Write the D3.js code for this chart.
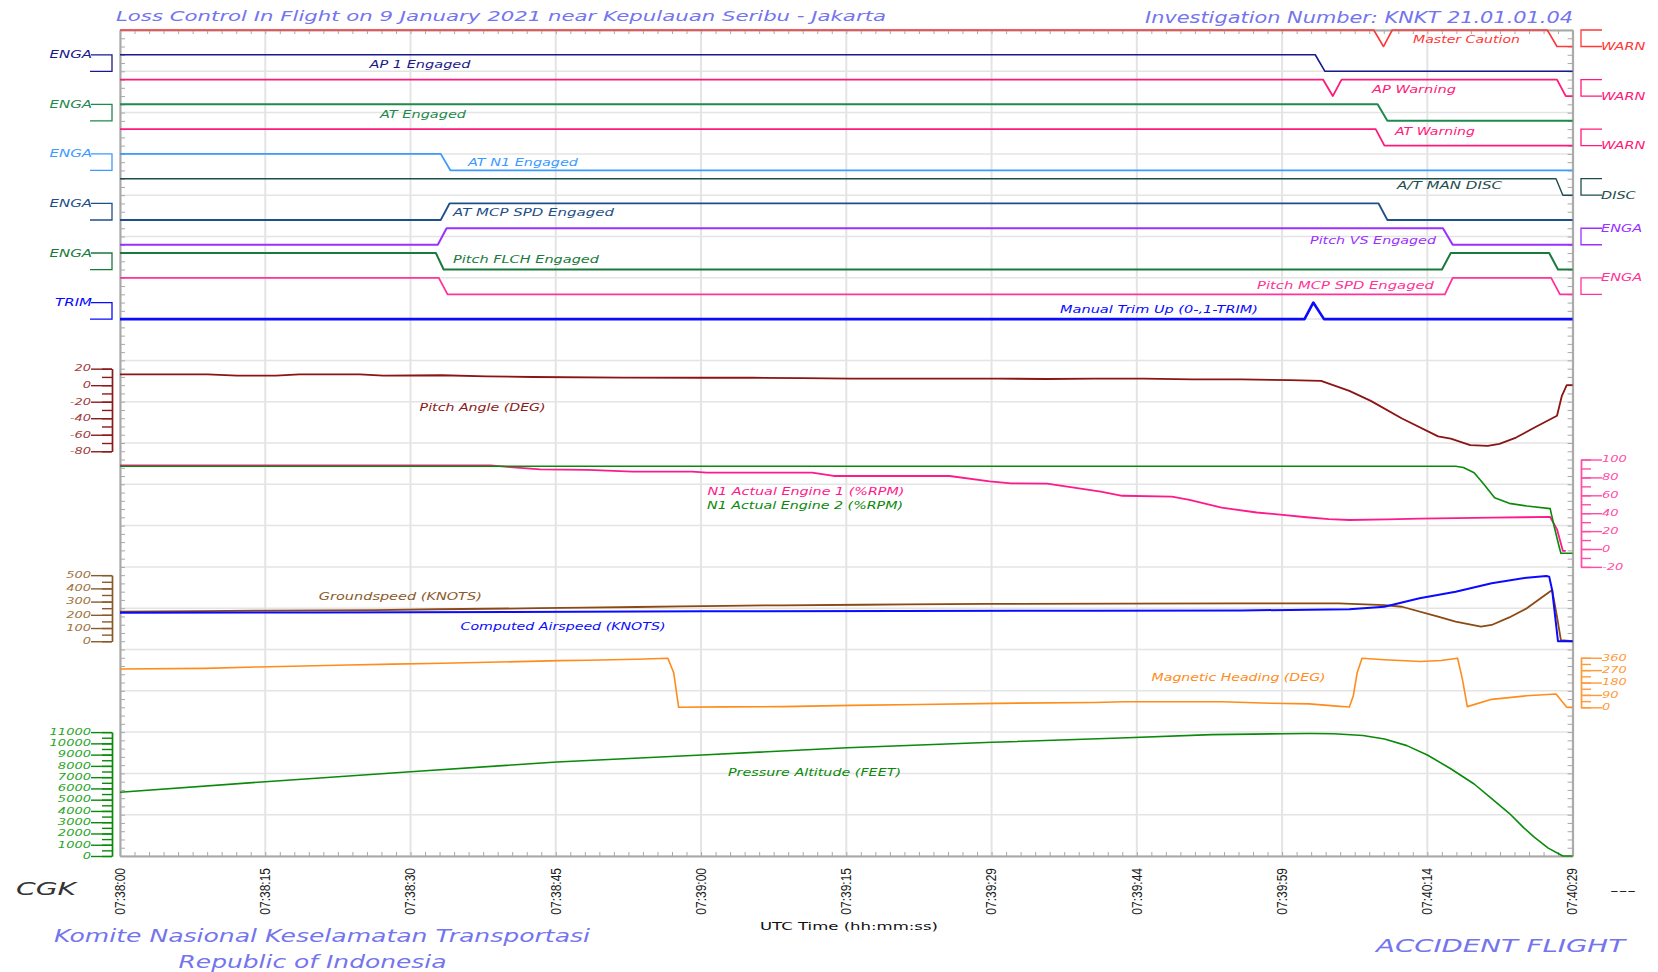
<!DOCTYPE html>
<html><head><meta charset="utf-8">
<script src="https://cdn.jsdelivr.net/npm/d3@7"></script>
<style>body{margin:0;background:#fff}svg{display:block}</style>
</head><body>
<svg id="c" width="1658" height="972"></svg>
<script>
// ---------------- DATA ----------------
const timeTickLabels = ["07:38:00","07:38:15","07:38:30","07:38:45","07:39:00","07:39:15","07:39:29","07:39:44","07:39:59","07:40:14","07:40:29"];
const timeTickSeconds = [0,14.9,29.8,44.7,59.6,74.5,89.4,104.3,119.2,134.1,149];

// discrete parameters: [seconds from 07:38:00, state 1=high 0=low]
const masterCaution = [[0,1],[128.6,1],[129.6,0],[130.5,1],[146.4,1],[147.4,0],[149,0]];
const ap1Engaged    = [[0,1],[122.6,1],[123.6,0],[149,0]];
const apWarning     = [[0,1],[123.4,1],[124.4,0],[125.3,1],[147.4,1],[148.3,0],[149,0]];
const atEngaged     = [[0,1],[129,1],[130,0],[149,0]];
const atWarning     = [[0,1],[128.8,1],[129.7,0],[149,0]];
const atN1Engaged   = [[0,1],[32.9,1],[33.9,0],[149,0]];
const atManDisc     = [[0,1],[147.3,1],[148,0],[149,0]];
const atMcpSpd      = [[0,0],[32.9,0],[33.8,1],[129.1,1],[130,0],[149,0]];
const pitchVS       = [[0,0],[32.6,0],[33.5,1],[135.7,1],[136.7,0],[149,0]];
const pitchFLCH     = [[0,1],[32.4,1],[33.2,0],[135.6,0],[136.5,1],[146.6,1],[147.5,0],[149,0]];
const pitchMcpSpd   = [[0,1],[32.7,1],[33.6,0],[135.9,0],[136.7,1],[146.8,1],[147.7,0],[149,0]];
const manualTrimUp  = [[0,0],[121.5,0],[122.4,1],[123.5,0],[149,0]];

const discreteNames = ["Master Caution","AP 1 Engaged","AP Warning","AT Engaged","AT Warning","AT N1 Engaged",
  "A/T MAN DISC","AT MCP SPD Engaged","Pitch VS Engaged","Pitch FLCH Engaged","Pitch MCP SPD Engaged","Manual Trim Up (0-,1-TRIM)"];
const discreteStateLabels = ["WARN","ENGA","WARN","ENGA","WARN","ENGA","DISC","ENGA","ENGA","ENGA","ENGA","TRIM"];

// continuous parameters: [seconds, value]
const pitchAngle = [[0,13],[9,13.2],[12,11.5],[16,11.5],[18.4,13.2],[24.6,13.2],[27,11.5],[33,12],[37.6,10.7],[42.3,9.9],
  [51.7,9.1],[59.5,9],[65,9],[70,8.5],[75,8],[80,8],[85,8],[90,8],[95,7.5],[100,8],[105,8],[110,7],[115,7],[120,6],[123.2,5.2],
  [126.1,-6.9],[128.3,-19],[131.5,-40.4],[135.2,-62],[136.5,-64.6],[138.5,-72.6],[140.3,-73.4],[141.5,-71],[143.2,-63.4],
  [145.1,-51.3],[147.4,-37.1],[147.9,-12.9],[148.4,0],[149,0]];
const n1Engine1 = [[0,93.5],[38,93.5],[40,91.5],[43.1,89],[48,88.5],[52.6,86.5],[58.7,86.5],[60.2,85.4],[71,85.4],
  [73.2,81.6],[85.1,81.6],[89.2,75.5],[91.4,73.4],[95.1,73],[100.6,64],[102.8,59.5],[107.9,58.5],[109.7,55],[113,46.2],
  [116.6,40.8],[119,38.5],[121.7,35.5],[124,33.5],[126.1,32.4],[130,33],[133.3,34],[137,34.5],[140.7,35],[144,35.5],
  [146.7,35.8],[147.4,22],[148,-2],[148.3,-2]];
const n1Engine2 = [[0,92.5],[137,92.5],[137.8,91],[138.9,85.3],[139.9,72.3],[141,57.4],[142.5,51],[144.3,48],[146.7,45.1],
  [147.1,25.7],[147.6,3.4],[147.8,-4.8],[149,-4.8]];
const groundspeed = [[0,224],[8.2,228],[14.8,232],[26.2,235],[32.7,242],[43,250],[47.6,254],[53,259],[57.5,264],[62.1,268],
  [67.8,272],[76.1,276],[80.7,279],[89,282],[102.6,285],[115,287],[125,286],[129.7,274],[131.5,261],[135.2,186],[137,148],
  [139.6,110],[140.7,123],[142.5,180],[144.3,249],[146.9,388],[147.4,186],[147.8,9],[149,0]];
const computedAirspeed = [[0,216],[20,218],[40,221],[60,226],[80,229],[100,231],[115,233],[126.1,242],[129.7,261],[133.3,325],
  [137,375],[140.7,439],[144.3,481],[146.3,494],[146.6,489],[146.9,388],[147.5,0],[149,0]];
const magneticHeading = [[0,278],[8.7,283],[14.1,293],[18.8,300],[23.4,307],[28,314],[33.1,320],[38.9,329],[45.1,339],[48,342],
  [53,349],[56.2,356],[56.8,250],[57.3,0],[62,3],[68,5],[75,14],[82,20],[90,29],[100,35],[103,41],[113,41],[118,30],
  [122,25],[124.8,9],[126.1,2],[126.5,82],[126.9,251],[127.4,356],[129.7,346],[133.4,333],[135.5,340],[137.2,357],[137.7,203],
  [138.2,5],[140.7,58],[144.3,84],[147.3,97],[148.4,0],[149,0]];
const pressureAltitude = [[0,5655],[14.9,6596],[29.8,7484],[44.8,8345],[59.7,8967],[74.6,9615],[89.5,10094],[102.6,10480],
  [112,10780],[119.4,10858],[122,10870],[124.5,10860],[127.5,10700],[129.7,10387],[132,9800],[134.1,8967],[136.5,7750],
  [138.9,6392],[140.7,5100],[142.5,3791],[144,2500],[145,1713],[146.5,700],[148,0],[149,0]];

const pitchTicks = [20,0,-20,-40,-60,-80];
const n1Ticks = [100,80,60,40,20,0,-20];
const speedTicks = [500,400,300,200,100,0];
const headingTicks = [360,270,180,90,0];
const altitudeTicks = [11000,10000,9000,8000,7000,6000,5000,4000,3000,2000,1000,0];

// ---------------- LAYOUT / STYLE ----------------
const svg = d3.select("#c");
const X0 = 120, X1 = 1572.6, Y0 = 30, Y1 = 856;
const SANS = "DejaVu Sans, Verdana, sans-serif";
const x = d3.scaleLinear().domain([0,149]).range([X0,X1]);
const u = d3.scaleLinear().domain([0,100]).range([Y1,Y0]); // 100 minor units over plot height

function txt(g, px, py, s, o={}){
  const t = g.append("text").attr("x",0).attr("y",0)
    .attr("font-family", o.font || SANS).attr("font-size", o.size || 10)
    .attr("font-style", o.italic === false ? "normal" : "italic")
    .attr("fill", o.color || "#000").attr("text-anchor", o.anchor || "start")
    .attr("dominant-baseline", o.baseline || "central").text(s);
  if (o.w) {
    t.attr("transform", `translate(${px},${py})`).attr("textLength", o.w).attr("lengthAdjust","spacingAndGlyphs");
  } else {
    t.attr("transform", `translate(${px},${py}) scale(${o.sx || 1.45},1)`);
  }
  return t;
}

// grid
const grid = svg.append("g");
d3.range(0,101,5).forEach(k => grid.append("line").attr("x1",X0).attr("x2",X1).attr("y1",u(k)).attr("y2",u(k))
  .attr("stroke","#e4e4e4").attr("stroke-width",1.5));
timeTickSeconds.forEach(t => grid.append("line").attr("x1",x(t)).attr("x2",x(t)).attr("y1",Y0).attr("y2",Y1)
  .attr("stroke","#e4e4e4").attr("stroke-width",2));

// frame with inner ticks
const frame = svg.append("g").attr("stroke","#a8a8a8");
function styleFrameAxis(g){ g.selectAll("path").attr("stroke","#a8a8a8").attr("stroke-width",2);
  g.selectAll("line").attr("stroke","#a8a8a8").attr("stroke-width",1); g.selectAll("text").remove(); }
const minorTimes = d3.range(0,150,1.49);
frame.append("g").attr("transform",`translate(0,${Y1})`)
  .call(d3.axisBottom(x).tickValues(minorTimes).tickSizeInner(-4).tickSizeOuter(0)).call(styleFrameAxis);
frame.append("g").attr("transform",`translate(0,${Y0})`)
  .call(d3.axisTop(x).tickValues(minorTimes).tickSizeInner(-4).tickSizeOuter(0)).call(styleFrameAxis);
frame.append("g").attr("transform",`translate(${X0},0)`)
  .call(d3.axisLeft(u).tickValues(d3.range(0,101)).tickSizeInner(-5).tickSizeOuter(0)).call(styleFrameAxis);
frame.append("g").attr("transform",`translate(${X1},0)`)
  .call(d3.axisRight(u).tickValues(d3.range(0,101)).tickSizeInner(-5).tickSizeOuter(0)).call(styleFrameAxis);

// bottom tick labels (rotated)
const tl = svg.append("g");
timeTickSeconds.forEach((t,i) => {
  tl.append("text").attr("transform",`translate(${x(t)},868) scale(1.15,1) rotate(-90)`)
    .attr("text-anchor","end").attr("dominant-baseline","central")
    .attr("font-family","Liberation Sans, Arial, sans-serif").attr("font-size",12).attr("fill","#1a1a1a")
    .text(timeTickLabels[i]);
});

// ---------------- DISCRETE TRACKS ----------------
const discreteData = [masterCaution, ap1Engaged, apWarning, atEngaged, atWarning, atN1Engaged, atManDisc, atMcpSpd,
  pitchVS, pitchFLCH, pitchMcpSpd, manualTrimUp];
const discreteColors = ["#ff3838","#1a1a8c","#ff1a7a","#1f8a4c","#ff1a7a","#3d9bff","#1e4d4d","#1f4f88",
  "#9b30ff","#1a7a3c","#ff3399","#0a0aff"];
const discreteWidths = [1.6,1.6,1.8,2,1.8,1.8,1.4,1.8,2,2,1.8,2.6];
// [x start, y centre, text width] of each name label
const discreteLabelPos = [[1413,39.5,107],[369.5,64.5,101],[1372,89,84],[380,114,86],[1395,131,80],[468,162.5,110],
  [1397,185,105],[453,212.5,161],[1310,240,126],[453,259,146],[1257,285,177],[1060,309.5,198]];

const dg = svg.append("g");
discreteData.forEach((data,i) => {
  const ys = d3.scaleLinear().domain([0,1]).range([u(98-3*i), u(100-3*i)]);
  const col = discreteColors[i];
  dg.append("path").datum(data).attr("fill","none").attr("stroke",col).attr("stroke-width",discreteWidths[i])
    .attr("stroke-linejoin","round").attr("d", d3.line().x(d=>x(d[0])).y(d=>ys(d[1])));
  const p = discreteLabelPos[i];
  txt(dg, p[0], p[1], discreteNames[i], {color: col, size: 10, w: p[2]});
  const hi = ys(1), lo = ys(0);
  if (i % 2 === 1) { // left bracket
    dg.append("path").attr("d",`M91,${hi}H112V${lo}H90`).attr("fill","none").attr("stroke",col).attr("stroke-width",1.3);
    txt(dg, 92, hi, discreteStateLabels[i], {color: col, size: 10, anchor: "end", sx: 1.5});
  } else { // right bracket
    dg.append("path").attr("d",`M1602,${hi}H1581V${lo}H1602`).attr("fill","none").attr("stroke",col).attr("stroke-width",1.3);
    const onHigh = discreteStateLabels[i] === "ENGA";
    txt(dg, 1601, onHigh ? hi : lo, discreteStateLabels[i], {color: col, size: 10, sx: 1.45});
  }
});

// ---------------- CONTINUOUS PANELS ----------------
const yPitch = d3.scaleLinear().domain([-80,20]).range([u(49),u(59)]);
const yN1 = d3.scaleLinear().domain([-20,100]).range([u(35),u(48)]);
const ySpeed = d3.scaleLinear().domain([0,500]).range([u(26),u(34)]);
const yHdg = d3.scaleLinear().domain([0,360]).range([u(18),u(24)]);
const yAlt = d3.scaleLinear().domain([0,11000]).range([u(0),u(15)]);

const cg = svg.append("g");
function series(data, ys, col, w){
  cg.append("path").datum(data).attr("fill","none").attr("stroke",col).attr("stroke-width",w)
    .attr("stroke-linejoin","round").attr("d", d3.line().x(d=>x(d[0])).y(d=>ys(d[1])));
}
function sideAxis(ys, ticks, minorStep, col, labCol, side){
  const g = svg.append("g");
  const minor = d3.range(ys.domain()[0], ys.domain()[1] + 1e-6, minorStep);
  const axisX = side === "left" ? 112 : 1581;
  const mk = side === "left" ? d3.axisLeft : d3.axisRight;
  g.append("g").attr("transform",`translate(${axisX},0)`)
    .call(mk(ys).tickValues(minor).tickSizeInner(10).tickSizeOuter(0).tickFormat(""));
  g.append("g").attr("transform",`translate(${axisX},0)`)
    .call(mk(ys).tickValues(ticks).tickSizeInner(21).tickSizeOuter(0).tickFormat(""));
  g.selectAll("path,line").attr("stroke",col).attr("stroke-width",1.4);
  ticks.forEach(v => {
    if (side === "left") txt(g, 91, ys(v), String(v), {color: labCol, size: 9, anchor: "end", sx: 1.45});
    else txt(g, 1602, ys(v), String(v), {color: labCol, size: 9, sx: 1.45});
  });
}

sideAxis(yPitch, pitchTicks, 10, "#8b1a1a", "#a03c3c", "left");
sideAxis(ySpeed, speedTicks, 50, "#8b5a2b", "#a0743f", "left");
sideAxis(yAlt, altitudeTicks, 500, "#0a8a0a", "#2aa52a", "left");
sideAxis(yN1, n1Ticks, 10, "#ff4da6", "#ff4da6", "right");
sideAxis(yHdg, headingTicks, 45, "#ff9a3a", "#ff9a3a", "right");

series(pitchAngle, yPitch, "#8b1414", 1.8);
series(n1Engine1, yN1, "#ff1a8c", 1.8);
series(n1Engine2, yN1, "#0a8a0a", 1.6);
series(groundspeed, ySpeed, "#8b4a13", 1.8);
series(computedAirspeed, ySpeed, "#0a0aff", 2);
series(magneticHeading, yHdg, "#ff8c1a", 1.6);
series(pressureAltitude, yAlt, "#0a8a0a", 1.6);

txt(cg, 419.6, 407.7, "Pitch Angle (DEG)", {color:"#8b1a1a", size:10, w:126});
txt(cg, 707.4, 491.7, "N1 Actual Engine 1 (%RPM)", {color:"#ff1a8c", size:10, w:197});
txt(cg, 707, 505.7, "N1 Actual Engine 2 (%RPM)", {color:"#0a8a0a", size:10, w:196});
txt(cg, 318.8, 596, "Groundspeed (KNOTS)", {color:"#8b5a2b", size:10, w:163});
txt(cg, 460.5, 626.7, "Computed Airspeed (KNOTS)", {color:"#0a0aff", size:10, w:205});
txt(cg, 1151.6, 677.7, "Magnetic Heading (DEG)", {color:"#ff8c1a", size:10, w:174});
txt(cg, 728, 772.3, "Pressure Altitude (FEET)", {color:"#0a8a0a", size:10, w:173});

// ---------------- TITLES ----------------
const tg = svg.append("g");
const titleCol = "#7474ee";
txt(tg, 116, 20.5, "Loss Control In Flight on 9 January 2021 near Kepulauan Seribu - Jakarta", {color:titleCol, size:14.5, w:770, baseline:"alphabetic"});
txt(tg, 1145, 22.7, "Investigation Number: KNKT 21.01.01.04", {color:titleCol, size:15, w:428, baseline:"alphabetic"});
txt(tg, 54, 941.7, "Komite Nasional Keselamatan Transportasi", {color:titleCol, size:17, w:536, baseline:"alphabetic"});
txt(tg, 178.5, 968.3, "Republic of Indonesia", {color:titleCol, size:17, w:268, baseline:"alphabetic"});
txt(tg, 1376, 952.3, "ACCIDENT FLIGHT", {color:titleCol, size:18, w:249, baseline:"alphabetic"});
txt(tg, 16, 895, "CGK", {color:"#333", size:17.5, w:60, baseline:"alphabetic"});
txt(tg, 1610, 890.7, "---", {color:"#222", size:12, w:26, italic:false});
txt(tg, 760, 930, "UTC Time (hh:mm:ss)", {color:"#111", size:10.5, w:178, italic:false, baseline:"alphabetic"});
</script>
</body></html>
